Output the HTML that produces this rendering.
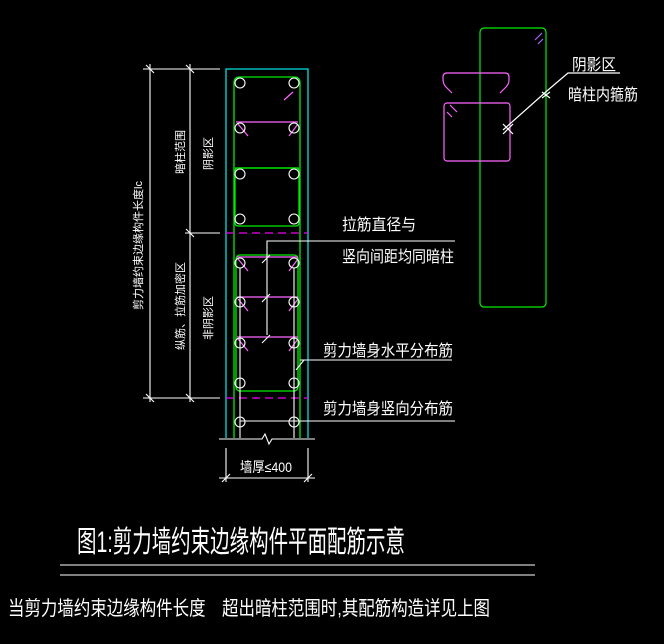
<!DOCTYPE html>
<html><head><meta charset="utf-8"><style>
html,body{margin:0;padding:0;background:#000;width:664px;height:644px;overflow:hidden}
text{font-family:"Liberation Sans","Noto Sans CJK SC",sans-serif;fill:#fff}
</style></head><body>
<svg width="664" height="644" viewBox="0 0 664 644" xmlns="http://www.w3.org/2000/svg">
<rect width="664" height="644" fill="#000"/>
<g stroke="#00e0e0" stroke-width="1.3" fill="none">
<path d="M226 438V69H308V438"/>
</g>
<g stroke="#00ee00" stroke-width="1.3" fill="none">
<path d="M234 438V83Q234 77 240 77H294Q300 77 300 83V438"/>
<rect x="235" y="168" width="64" height="58" rx="3"/>
<path d="M235 168H299"/>
<rect x="236" y="255" width="62" height="136" rx="4"/>
</g>
<g stroke="#ff66ff" stroke-width="1.2" fill="none">
<path d="M236 122H298M237 257H298M237 297H298M237 337H298"/>
<path d="M238 124l10 12M298 124l-9 12M238 259l10 12M298 259l-9 12M238 299l10 12M298 299l-9 12M238 339l10 12M298 339l-9 12M284 100l9 -8"/>
</g>
<g stroke="#ee00ee" stroke-width="1.3" stroke-dasharray="8,5"><path d="M226 233H308M226 398H308"/></g>
<g stroke="#fff" stroke-width="1.1" fill="none">
<circle cx="240" cy="83" r="5"/><circle cx="294" cy="83" r="5"/>
<circle cx="240" cy="128" r="5"/><circle cx="294" cy="128" r="5"/>
<circle cx="240" cy="174" r="5"/><circle cx="294" cy="174" r="5"/>
<circle cx="240" cy="219" r="5"/><circle cx="294" cy="219" r="5"/>
<circle cx="240" cy="263" r="5"/><circle cx="294" cy="263" r="5"/>
<circle cx="240" cy="302" r="5"/><circle cx="294" cy="302" r="5"/>
<circle cx="240" cy="343" r="5"/><circle cx="294" cy="343" r="5"/>
<circle cx="240" cy="383" r="5"/><circle cx="294" cy="383" r="5"/>
<circle cx="240" cy="422" r="5"/><circle cx="294" cy="422" r="5"/>
<path d="M240 268V438M294 268V438"/>
<path d="M267 335V241H455"/>
<path d="M262 263l8-8M262 302l8-8M262 343l8-8"/>
<path d="M240 421H455M300 360H452M296 370l8-10"/>
<path d="M150 64V402M190 64V402M143 69H220M185 233H220M143 398H220"/>
<path d="M146 65l8 8M186 65l8 8M186 229l8 8M146 394l8 8M186 394l8 8"/>
<path d="M219 439H262l3-5 4 10 3-5H315"/>
<path d="M219 478H315M226 448V482M308 448V482M222 482l8-8M304 482l8-8"/>
<path d="M60 565H535M60 575H535"/>
</g>
<g fill="none" stroke-width="1.2">
<rect x="480" y="28" width="66" height="279" rx="4" stroke="#00ee00"/>
<path d="M452 93L446 87Q443 84 443 79V77Q443 73 447 73H505Q509 73 509 77V80Q509 84 506 87L500 93" stroke="#ff66ff"/>
<rect x="444" y="103" width="66" height="58" rx="3" stroke="#ff66ff"/>
<path d="M450 105l7 7M447 112l5 5" stroke="#ff66ff"/>
<path d="M535 40l7-7M538 44l5-5" stroke="#aa66ff"/>
<path d="M503 130l45-40 20-17H620" stroke="#fff"/>
<path d="M503 124l10 10M503 134l10-10M542 92l8 6M542 98l8-6" stroke="#fff"/>
</g>
<g font-size="16">
<text x="572" y="70" textLength="44" lengthAdjust="spacingAndGlyphs">阴影区</text>
<text x="568" y="100" textLength="70" lengthAdjust="spacingAndGlyphs">暗柱内箍筋</text>
<text x="342" y="230" textLength="74" lengthAdjust="spacingAndGlyphs">拉筋直径与</text>
<text x="342" y="262" textLength="112" lengthAdjust="spacingAndGlyphs">竖向间距均同暗柱</text>
<text x="323" y="356" textLength="130" lengthAdjust="spacingAndGlyphs">剪力墙身水平分布筋</text>
<text x="323" y="414" textLength="130" lengthAdjust="spacingAndGlyphs">剪力墙身竖向分布筋</text>
<text x="240" y="472" font-size="14" textLength="52" lengthAdjust="spacingAndGlyphs">墙厚≤400</text>
</g>
<g font-size="11">
<text transform="translate(142,310) rotate(-90)">剪力墙约束边缘构件长度lc</text>
<text transform="translate(184,174) rotate(-90)">暗柱范围</text>
<text transform="translate(212,170) rotate(-90)">阴影区</text>
<text transform="translate(184,350) rotate(-90)">纵筋、拉筋加密区</text>
<text transform="translate(212,340) rotate(-90)">非阴影区</text>
</g>
<text x="77" y="552" font-size="30" textLength="328" lengthAdjust="spacingAndGlyphs">图1:剪力墙约束边缘构件平面配筋示意</text>
<text x="8" y="615" font-size="20" textLength="482" lengthAdjust="spacingAndGlyphs">当剪力墙约束边缘构件长度　超出暗柱范围时,其配筋构造详见上图</text>
</svg>
</body></html>
